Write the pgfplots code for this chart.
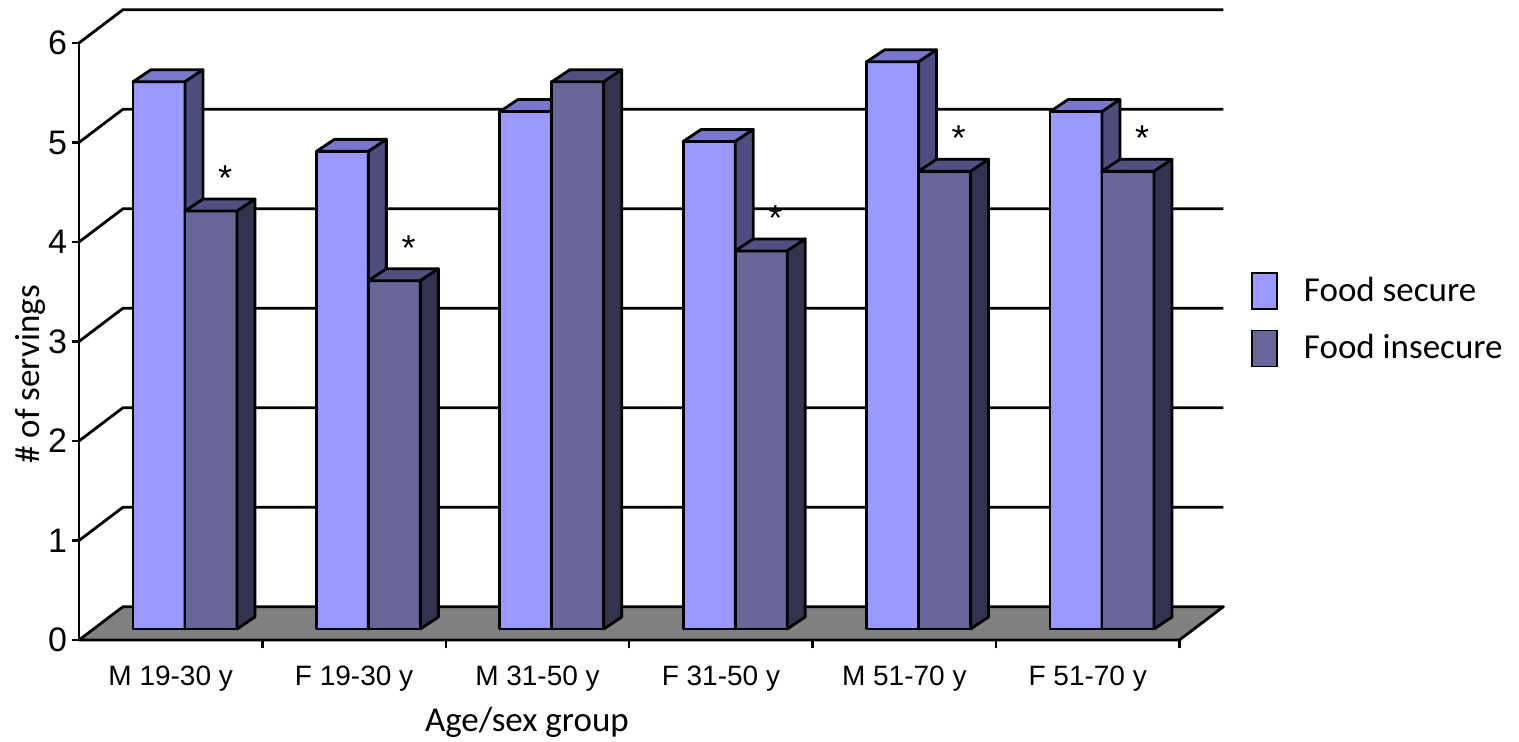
\documentclass[border=0pt]{standalone}
\usepackage{fontspec}
\setmainfont{Carlito}
\newfontfamily\arialfont{Liberation Sans}
\usepackage{pgfplots}
\pgfplotsset{compat=1.18}
\definecolor{secF}{HTML}{9999FF}
\definecolor{secT}{HTML}{7777CC}
\definecolor{secS}{HTML}{4D4D80}
\definecolor{insF}{HTML}{666699}
\definecolor{insT}{HTML}{4F4F80}
\definecolor{insS}{HTML}{333350}
\definecolor{floorC}{HTML}{808080}
% geometry of the oblique 3-D look (axis units)
\def\off{0.2944}  % left edge of bar pair inside a category
\def\bw{0.2835}   % bar width
\def\bdx{0.098}   % bar depth, x
\def\bdy{0.1206}  % bar depth, y
\def\by{0.1106}   % bar base above the front floor edge
\newcommand\cube[5]{%
  \pgfmathsetmacro\xa{#1}%
  \pgfmathsetmacro\xb{#1+\bw}%
  \pgfmathsetmacro\xc{#1+\bdx}%
  \pgfmathsetmacro\xd{#1+\bw+\bdx}%
  \pgfmathsetmacro\ya{\by}%
  \pgfmathsetmacro\yb{\by+#2}%
  \pgfmathsetmacro\yc{\by+\bdy}%
  \pgfmathsetmacro\yd{\by+#2+\bdy}%
  \addplot[forget plot, fill=#3, draw=black, line width=1.4pt, line join=round]
    coordinates {(\xa,\ya) (\xb,\ya) (\xb,\yb) (\xa,\yb)} -- cycle;
  \addplot[forget plot, fill=#4, draw=black, line width=1.4pt, line join=round]
    coordinates {(\xa,\yb) (\xb,\yb) (\xd,\yd) (\xc,\yd)} -- cycle;
  \addplot[forget plot, fill=#5, draw=black, line width=1.4pt, line join=round]
    coordinates {(\xb,\ya) (\xd,\yc) (\xd,\yd) (\xb,\yb)} -- cycle;
}
% #1 category index, #2 food secure, #3 food insecure
\newcommand\barpair[3]{%
  \cube{#1+\off}{#2}{secF}{secT}{secS}%
  \cube{#1+\off+\bw}{#3}{insF}{insT}{insS}%
}
% significance mark above the food-insecure bar
\newcommand\sigstar[2]{%
  \pgfmathsetmacro\sx{#1+\off+1.5*\bw+0.5*\bdx+0.028}%
  \pgfmathsetmacro\sy{\by+#2+0.5*\bdy+0.14}%
  \addplot[forget plot, draw=none, mark=none, nodes near coords={*},
    every node near coord/.append style={inner sep=0pt, anchor=south,
      font=\arialfont\fontsize{18}{20}\selectfont}]
    coordinates {(\sx,\sy)};
}
\begin{document}
\begin{tikzpicture}
\useasboundingbox (0,0) rectangle (759.5pt,370.5pt);
\begin{axis}[
  at={(39.5pt,50.5pt)}, anchor=south west,
  x=91.7pt, y=49.75pt,
  xmin=0, xmax=6, ymin=0, ymax=6,
  clip=false,
  axis lines*=left,
  axis line style={line width=1.4pt},
  tick align=outside,
  major tick length=3.5pt, minor tick length=4pt,
  tick style={black, line width=1.2pt},
  ytick={0,1,2,3,4,5,6},
  xtick={0.5,1.5,2.5,3.5,4.5,5.5},
  xticklabels={M 19-30 y, F 19-30 y, M 31-50 y, F 31-50 y, M 51-70 y, F 51-70 y},
  minor xtick={1,2,3,4,5,6},
  major x tick style={draw=none},
  /pgf/number format/assume math mode=true,
  yticklabel style={font=\arialfont\fontsize{17}{20}\selectfont, xshift=1pt},
  xticklabel style={font=\arialfont\fontsize{14}{16}\selectfont, yshift=-6pt},
  xlabel={Age/sex group},
  ylabel={\# of servings},
  xlabel style={at={(axis description cs:0.407,-0.1374)}, anchor=center,
    font=\fontsize{17.5}{20}\selectfont},
  ylabel style={at={(axis description cs:-0.0437,0.445)}, anchor=center,
    font=\fontsize{17.5}{20}\selectfont},
  legend style={at={(axis description cs:1.065,0.5368)}, anchor=west,
    draw=none, fill=none, inner sep=0pt, row sep=10pt, column sep=13pt,
    font=\fontsize{17.5}{20}\selectfont, nodes={inner sep=0pt}},
  legend cell align=left,
]
% back wall grid lines and left wall diagonals
\addplot[forget plot, black, line width=1.4pt] coordinates {(0,1) (0.24,1.335) (6.24,1.335)};
\addplot[forget plot, black, line width=1.4pt] coordinates {(0,2) (0.24,2.335) (6.24,2.335)};
\addplot[forget plot, black, line width=1.4pt] coordinates {(0,3) (0.24,3.335) (6.24,3.335)};
\addplot[forget plot, black, line width=1.4pt] coordinates {(0,4) (0.24,4.335) (6.24,4.335)};
\addplot[forget plot, black, line width=1.4pt] coordinates {(0,5) (0.24,5.335) (6.24,5.335)};
\addplot[forget plot, black, line width=1.4pt] coordinates {(0,6) (0.24,6.335) (6.24,6.335)};
% floor
\addplot[forget plot, fill=floorC, draw=black, line width=1.4pt, line join=round]
  coordinates {(0,0) (6,0) (6.24,0.335) (0.24,0.335)} -- cycle;
% bars: Food secure, Food insecure
\barpair{0}{5.5}{4.2}
\barpair{1}{4.8}{3.5}
\barpair{2}{5.2}{5.5}
\barpair{3}{4.9}{3.8}
\barpair{4}{5.7}{4.6}
\barpair{5}{5.2}{4.6}
% asterisks
\sigstar{0}{4.2}
\sigstar{1}{3.5}
\sigstar{3}{3.8}
\sigstar{4}{4.6}
\sigstar{5}{4.6}
% legend
\addlegendimage{legend image code/.code={\draw[fill=secF, draw=black, line width=0.8pt] (0pt,-9pt) rectangle (12.5pt,9pt);}}
\addlegendentry{Food secure}
\addlegendimage{legend image code/.code={\draw[fill=insF, draw=black, line width=0.8pt] (0pt,-9pt) rectangle (12.5pt,9pt);}}
\addlegendentry{Food insecure}
\end{axis}
\end{tikzpicture}
\end{document}
